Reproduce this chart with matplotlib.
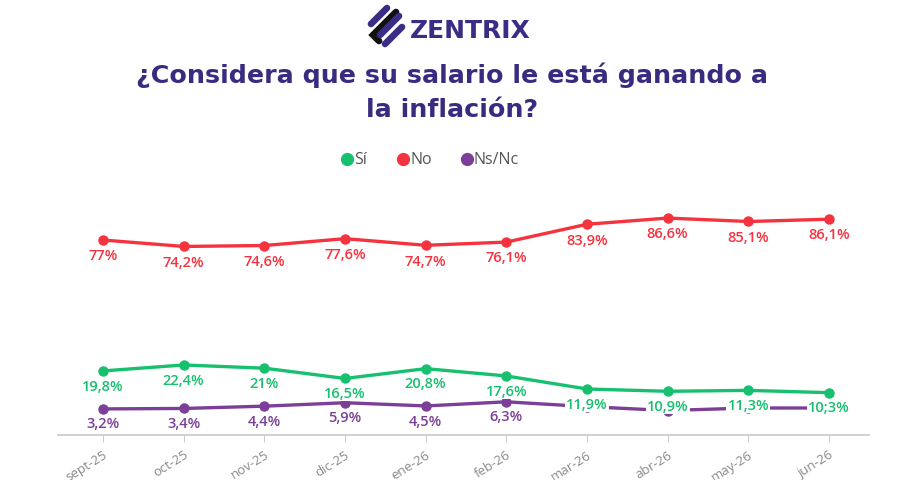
import matplotlib
matplotlib.use("Agg")
import matplotlib.pyplot as plt
from matplotlib.lines import Line2D

months = ["sept-25", "oct-25", "nov-25", "dic-25", "ene-26", "feb-26",
          "mar-26", "abr-26", "may-26", "jun-26"]
si = [19.8, 22.4, 21.0, 16.5, 20.8, 17.6, 11.9, 10.9, 11.3, 10.3]
no = [77.0, 74.2, 74.6, 77.6, 74.7, 76.1, 83.9, 86.6, 85.1, 86.1]
nsnc = [3.2, 3.4, 4.4, 5.9, 4.5, 6.3, 4.2, 2.5, 3.6, 3.6]
si_labels = ["19,8%", "22,4%", "21%", "16,5%", "20,8%", "17,6%", "11,9%", "10,9%", "11,3%", "10;3%"]
no_labels = ["77%", "74,2%", "74,6%", "77,6%", "74,7%", "76,1%", "83,9%", "86,6%", "85,1%", "86,1%"]
ns_labels = ["3,2%", "3,4%", "4,4%", "5,9%", "4,5%", "6,3%", None, None, None, None]
series_names = ["Sí", "No", "Ns/Nc"]

GREEN = "#17c06e"
RED = "#f5333f"
PURPLE = "#7b3f98"
TITLE = "#3a2b80"

plt.rcParams['font.family'] = ['Open Sans', 'DejaVu Sans']

fig = plt.figure(figsize=(9, 4.81), dpi=100)
ax = fig.add_axes([58/900, (481-436)/481, 811/900, (436-190)/481])
x = list(range(len(months)))

ax.plot(x, nsnc, color=PURPLE, lw=2.4, marker='o', ms=6.5, zorder=2)
ax.plot(x, si, color=GREEN, lw=2.4, marker='o', ms=6.5, zorder=3)
ax.plot(x, no, color=RED, lw=2.4, marker='o', ms=6.5, zorder=3)

for i in x:
    ax.annotate(no_labels[i], (i, no[i]), xytext=(0, -11), textcoords='offset points',
                ha='center', va='center', color=RED, fontsize=10.5, fontweight='semibold', zorder=5)
    ax.annotate(si_labels[i], (i, si[i]), xytext=(0, -10.5), textcoords='offset points',
                ha='center', va='center', color=GREEN, fontsize=10.5, fontweight='semibold', zorder=6,
                bbox=dict(boxstyle='square,pad=0.08', fc='white', ec='none'))
    if ns_labels[i]:
        ax.annotate(ns_labels[i], (i, nsnc[i]), xytext=(0, -10.5), textcoords='offset points',
                    ha='center', va='center', color=PURPLE, fontsize=10.5, fontweight='semibold', zorder=5)

ax.set_xlim(-0.558, 9.496)
ax.set_ylim(-8.2, 99.3)
ax.set_xticks(x)
ax.set_xticklabels(months, rotation=32, ha='right', rotation_mode='anchor',
                   color='#8a8a8a', fontsize=9.5)
ax.tick_params(axis='x', length=5, color='#cccccc', pad=4)
ax.set_yticks([])
for s in ['top', 'right', 'left']:
    ax.spines[s].set_visible(False)
ax.spines['bottom'].set_color('#c8c8c8')
ax.spines['bottom'].set_linewidth(1.2)

# Title
tfam = ['DejaVu Sans']
fig.text(452/900, 1-75/481, "¿Considera que su salario le está ganando a",
         ha='center', va='center', fontsize=18.3, fontweight='bold', color=TITLE, family=tfam)
fig.text(452/900, 1-110/481, "la inflación?",
         ha='center', va='center', fontsize=18.3, fontweight='bold', color=TITLE, family=tfam)

# Legend (manual placement)
leg_x = [347, 403, 467]
for lx, c, name in zip(leg_x, (GREEN, RED, PURPLE), series_names):
    fig.add_artist(Line2D([lx/900], [1-160/481], ls='none', marker='o', ms=8.5,
                          color=c, transform=fig.transFigure))
    fig.text((lx+7)/900, 1-160/481, name, ha='left', va='center', fontsize=11.5,
             color='#555555')

# Logo
icon_color = "#3b2d85"
segs = [
    ([(371, 25), (387, 9)], icon_color),
    ([(396, 13), (373, 36), (379, 42)], "#111111"),
    ([(380, 36), (399, 17)], icon_color),
    ([(385, 45), (402, 28)], icon_color),
]
for pts, c in segs:
    xs = [p[0]/900 for p in pts]
    ys = [1-p[1]/481 for p in pts]
    fig.add_artist(Line2D(xs, ys, color=c, lw=4.8, solid_capstyle='round',
                          solid_joinstyle='miter', transform=fig.transFigure))
fig.text(410/900, 1-31/481, "ZENTRIX", ha='left', va='center', fontsize=18,
         fontweight='bold', color=icon_color, family=['DejaVu Sans'])

fig.savefig("out.png", dpi=100, facecolor='white')
